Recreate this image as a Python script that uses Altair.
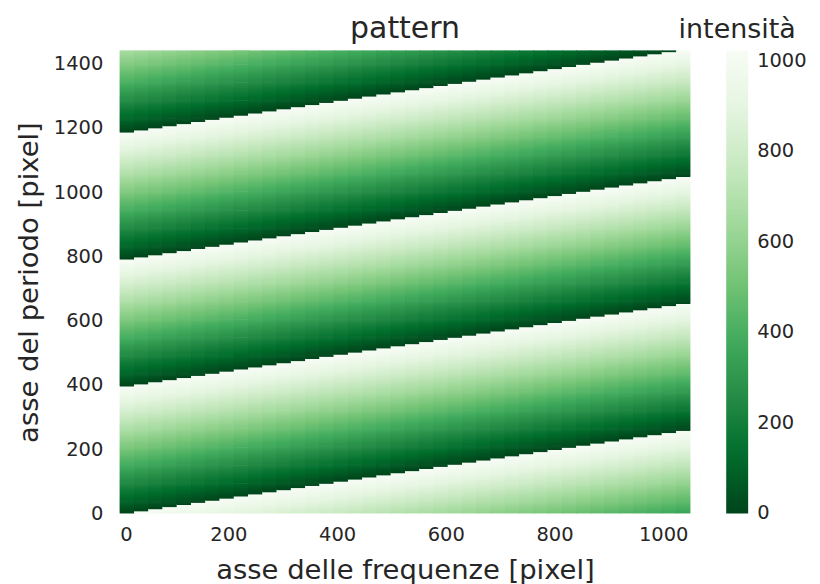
import altair as alt
import numpy as np
import pandas as pd

# ---- values ----
X_EXTENT = 1050          # frequency axis extent [pixel]
Y_EXTENT = 1440          # period axis extent [pixel]
PERIOD = 395             # vertical distance between two resets of the ramp
N_STEPS = 40             # staircase steps visible across the x axis
ROWS_PER_PERIOD = 120    # colour rows drawn per ramp
ROWS_PER_STEP = 2        # each step lifts the ramp by two rows (~262 over the width)
V_MAX = 1023             # top of the intensity colour bar
V_MIN = -1               # bottom of the colour bar (0 sits at its foot)

X_TICKS = [0, 200, 400, 600, 800, 1000]
Y_TICKS = [0, 200, 400, 600, 800, 1000, 1200, 1400]
CBAR_TICKS = [0, 200, 400, 600, 800, 1000]
GREENS_R = ["#00441b", "#006d2c", "#238b45", "#41ab5d", "#74c476",
            "#a1d99b", "#c7e9c0", "#e5f5e0", "#f7fcf5"]
TITLES = {"main": "pattern", "cbar": "intensità",
          "x": "asse delle frequenze [pixel]", "y": "asse del periodo [pixel]"}

TEXT = "#262626"
FONT = "DejaVu Sans"
PLOT_W, PLOT_H = 572, 464

# ---- build the table of cells ----
# every cell reaches ~0.7 px into its right and upper neighbour, which is drawn
# later, so fractional edges never let the white page show through.
rows = []
col_w = X_EXTENT / N_STEPS
row_h = PERIOD / ROWS_PER_PERIOD
ovl_x = 0.7 * X_EXTENT / PLOT_W
ovl_y = 0.7 * Y_EXTENT / PLOT_H
n_rows = int(np.ceil(Y_EXTENT / row_h))
order = 0
for c in range(N_STEPS):
    x0 = c * col_w
    x1 = min(x0 + col_w + ovl_x, float(X_EXTENT))
    for r in range(n_rows):
        lo = r * row_h
        hi = min(lo + row_h + ovl_y, float(Y_EXTENT))
        phase = (r - ROWS_PER_STEP * c) % ROWS_PER_PERIOD
        v = (phase + 0.5) / ROWS_PER_PERIOD * V_MAX
        rows.append((order, x0, x1, lo, hi, v))
        order += 1

df = pd.DataFrame(rows, columns=["o", "x", "x2", "y", "y2", "v"])

stops = list(np.linspace(V_MIN, V_MAX, len(GREENS_R)))
cscale = alt.Scale(domain=stops, range=GREENS_R, interpolate="rgb")

heat = alt.Chart(df).mark_rect().encode(
    x=alt.X("x:Q", scale=alt.Scale(domain=[0, X_EXTENT], nice=False, zero=False),
            axis=alt.Axis(values=X_TICKS, title=TITLES["x"], format="d",
                          labelPadding=12, titlePadding=13)),
    x2="x2:Q",
    y=alt.Y("y:Q", scale=alt.Scale(domain=[0, Y_EXTENT], nice=False, zero=False),
            axis=alt.Axis(values=Y_TICKS, title=TITLES["y"], format="d",
                          labelPadding=17, titlePadding=10)),
    y2="y2:Q",
    order=alt.Order("o:Q"),
    color=alt.Color("v:Q", scale=cscale,
                    legend=alt.Legend(type="gradient", title=None, orient="right",
                                      offset=36, direction="vertical",
                                      gradientLength=PLOT_H, gradientThickness=22,
                                      labelOffset=9, labelFontSize=19.5,
                                      labelColor=TEXT, labelFont=FONT, format="d",
                                      values=CBAR_TICKS, labelOverlap=False,
                                      gradientStrokeWidth=0)),
)

title_df = pd.DataFrame({"t": [TITLES["main"]]})
cbar_df = pd.DataFrame({"t": [TITLES["cbar"]]})

main_title = alt.Chart(title_df).mark_text(
    fontSize=30, font=FONT, color=TEXT, align="center", baseline="alphabetic"
).encode(text="t:N", x=alt.value(PLOT_W / 2), y=alt.value(-13))

cbar_title = alt.Chart(cbar_df).mark_text(
    fontSize=27, font=FONT, color=TEXT, align="center", baseline="alphabetic"
).encode(text="t:N", x=alt.value(619), y=alt.value(-13))

chart = alt.layer(heat, main_title, cbar_title).properties(
    width=PLOT_W, height=PLOT_H,
    padding={"left": 7, "top": 5, "right": 5, "bottom": 5},
).configure_view(stroke=None).configure_axis(
    ticks=False, domain=False, grid=False,
    labelFont=FONT, titleFont=FONT, labelFontSize=19.5, titleFontSize=27.5,
    labelColor=TEXT, titleColor=TEXT, titleFontWeight="normal",
)

chart.save("out.html", embed_options={"renderer": "svg", "actions": False})
